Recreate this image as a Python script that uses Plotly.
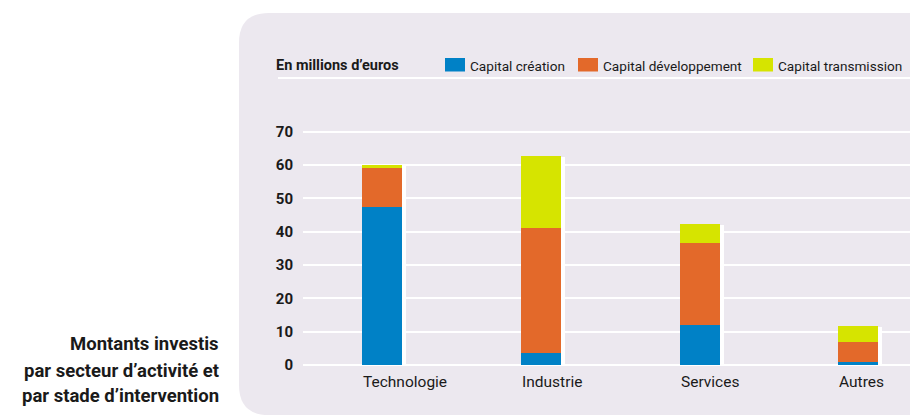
import plotly.graph_objects as go
import numpy as np

categories = ["Technologie", "Industrie", "Services", "Autres"]
creation = [47.3, 3.7, 12.1, 0.9]
developpement = [11.8, 37.4, 24.6, 6.1]
transmission = [0.9, 21.6, 5.5, 4.7]
series_names = ["Capital création", "Capital développement", "Capital transmission"]
colors = ["#0081C6", "#E3692A", "#D6E400"]
y_ticks = [0, 10, 20, 30, 40, 50, 60, 70]

W, H = 910, 420
L, R, T, B = 303, 0, 125, 55
PW, PH = W - L - R, H - T - B
FONT = "Roboto"
TXT = "#1a1a1a"
PANEL = "#ECE8EF"


def px(x):
    return (x - L) / PW


def py(y):
    return (H - B - y) / PH


c = np.array(creation)
d = np.array(developpement)
t = np.array(transmission)
total = c + d + t

bw = 0.252
sh = 4 / (PW / 3.825)

fig = go.Figure()
# white shadow behind each stack
fig.add_trace(go.Bar(x=categories, y=total - 0.3, base=0, width=bw, offset=-bw / 2 + sh,
                     marker=dict(color="white", line=dict(width=0)), showlegend=False,
                     hoverinfo="skip"))
bases = [np.zeros(4), c, c + d]
for vals, base, name, col in zip([c, d, t], bases, series_names, colors):
    fig.add_trace(go.Bar(x=categories, y=vals, base=base, width=bw, offset=-bw / 2,
                         name=name, marker=dict(color=col, line=dict(width=0)),
                         showlegend=False))

shapes = []
# rounded panel
x0, x1, y0, y1, r = 239, 940, 13, 415, 30
rx, ry = r / PW, r / PH
path = (f"M{px(x0)+rx},{py(y0)} L{px(x1)},{py(y0)} L{px(x1)},{py(y1)} L{px(x0)+rx},{py(y1)} "
        f"Q{px(x0)},{py(y1)} {px(x0)},{py(y1)+ry} L{px(x0)},{py(y0)-ry} "
        f"Q{px(x0)},{py(y0)} {px(x0)+rx},{py(y0)} Z")
shapes.append(dict(type="path", path=path, xref="paper", yref="paper",
                   fillcolor=PANEL, line=dict(width=0), layer="below"))
# white rule under the legend
shapes.append(dict(type="line", xref="paper", yref="paper", x0=px(278), x1=px(912),
                   y0=py(78), y1=py(78), line=dict(color="white", width=2)))

annotations = []
# legend swatches + labels
sw_x = [445, 578, 753]
for sx, name, col in zip(sw_x, series_names, colors):
    shapes.append(dict(type="rect", xref="paper", yref="paper", x0=px(sx), x1=px(sx + 20),
                       y0=py(71.5), y1=py(58), fillcolor=col, line=dict(width=0)))
    annotations.append(dict(text=name, xref="paper", yref="paper", x=px(sx + 23), y=py(65.5),
                            xanchor="left", yanchor="middle", showarrow=False,
                            font=dict(family=FONT, size=13.6, color=TXT)))
annotations.append(dict(text="<b>En millions d’euros</b>", xref="paper", yref="paper",
                        x=px(274), y=py(65.5), xanchor="left", yanchor="middle",
                        showarrow=False, font=dict(family=FONT, size=14.5, color=TXT)))
# category labels, left-aligned with the bar
for cat in categories:
    annotations.append(dict(text=cat, x=cat, xref="x", yref="paper", y=py(381.5),
                            xanchor="left", yanchor="middle", xshift=-21, showarrow=False,
                            font=dict(family=FONT, size=15.5, color=TXT)))
# title
title_lines = ["Montants investis", "par secteur d’activité et", "par stade d’intervention"]
for line, yy in zip(title_lines, [344, 370.5, 396]):
    annotations.append(dict(text=f"<b>{line}</b>", xref="paper", yref="paper", x=px(221),
                            y=py(yy), xanchor="right", yanchor="middle", showarrow=False,
                            font=dict(family=FONT, size=18.5, color=TXT)))

fig.update_layout(
    width=W, height=H,
    margin=dict(l=L, r=R, t=T, b=B, pad=0),
    paper_bgcolor="white",
    plot_bgcolor="rgba(0,0,0,0)",
    barmode="overlay",
    bargap=0,
    shapes=shapes,
    annotations=annotations,
    showlegend=False,
    xaxis=dict(type="category", range=[-0.5, 3.325], showticklabels=False, showgrid=False,
               zeroline=False, showline=False, ticks="", fixedrange=True),
    yaxis=dict(range=[0, 72], tickvals=y_ticks, showgrid=True, gridcolor="white", gridwidth=2,
               zeroline=True, zerolinecolor="white", zerolinewidth=2, showline=False,
               ticks="", ticklabelstandoff=9,
               tickfont=dict(family=FONT, size=15, color=TXT, weight="bold"), fixedrange=True),
)

fig.write_html("out.html", config={"displayModeBar": False},
               post_script="document.body.style.margin='0';document.body.style.padding='0';")
